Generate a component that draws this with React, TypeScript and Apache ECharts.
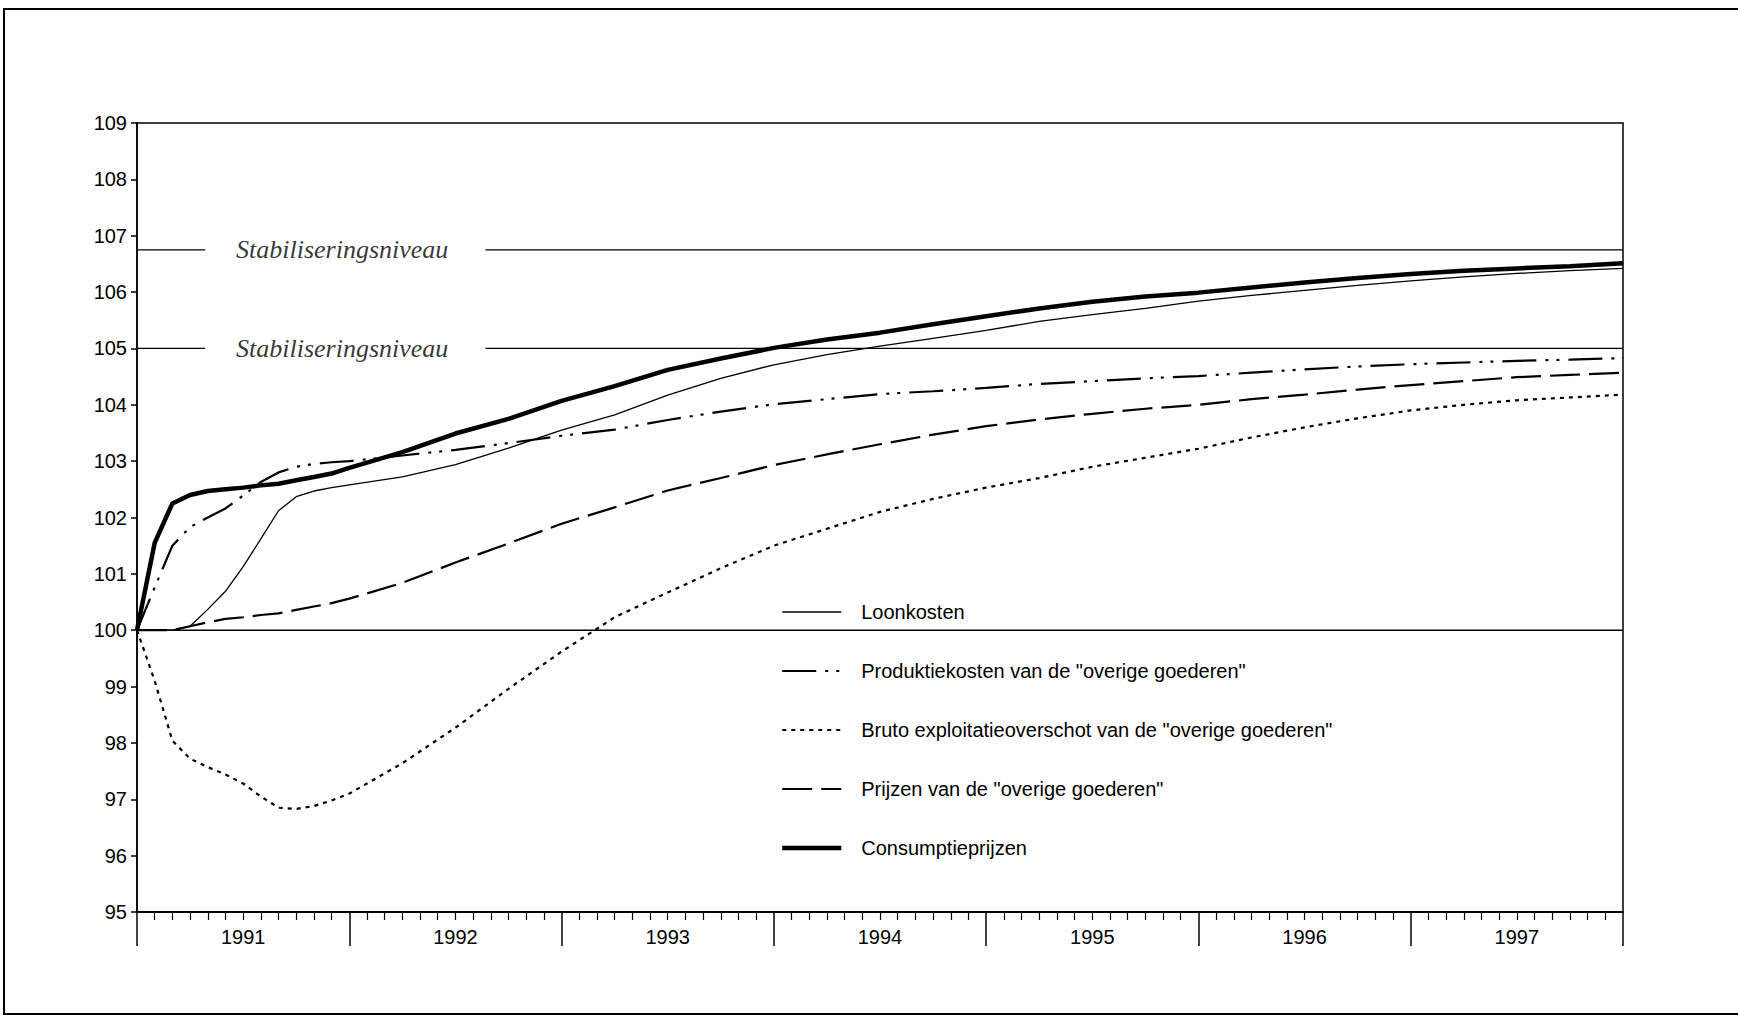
import React, { useEffect, useRef } from "react";
import * as echarts from "echarts";

// x positions in months since the start of 1991
const MONTHS = [0, 1, 2, 3, 4, 5, 6, 7, 8, 9, 10, 11, 12, 15, 18, 21, 24, 27, 30, 33, 36, 39, 42, 45, 48, 51, 54, 57, 60, 63, 66, 69, 72, 75, 78, 81, 84];
const YEARS = ["1991", "1992", "1993", "1994", "1995", "1996", "1997"];

const LOONKOSTEN = [100, 100, 100, 100.07, 100.37, 100.69, 101.13, 101.62, 102.12, 102.37, 102.47, 102.53, 102.58, 102.72, 102.94, 103.23, 103.55, 103.82, 104.17, 104.47, 104.71, 104.89, 105.04, 105.18, 105.32, 105.48, 105.6, 105.71, 105.84, 105.94, 106.03, 106.12, 106.2, 106.27, 106.33, 106.38, 106.42];
const PRODUKTIEKOSTEN = [100, 100.76, 101.5, 101.83, 102.0, 102.16, 102.39, 102.63, 102.8, 102.9, 102.95, 102.98, 103.0, 103.1, 103.2, 103.32, 103.45, 103.56, 103.73, 103.88, 104.01, 104.1, 104.19, 104.24, 104.3, 104.37, 104.42, 104.47, 104.51, 104.57, 104.63, 104.68, 104.72, 104.75, 104.78, 104.8, 104.83];
const BRUTO = [100, 99.1, 98.04, 97.72, 97.57, 97.44, 97.28, 97.05, 96.85, 96.83, 96.88, 96.98, 97.1, 97.64, 98.27, 98.96, 99.62, 100.23, 100.67, 101.1, 101.5, 101.8, 102.1, 102.33, 102.53, 102.7, 102.9, 103.06, 103.22, 103.42, 103.6, 103.76, 103.9, 104.0, 104.08, 104.13, 104.18];
const PRIJZEN = [100, 100, 100, 100.07, 100.14, 100.2, 100.23, 100.27, 100.3, 100.36, 100.42, 100.48, 100.56, 100.84, 101.2, 101.54, 101.89, 102.18, 102.48, 102.7, 102.93, 103.12, 103.3, 103.47, 103.62, 103.74, 103.84, 103.93, 104.0, 104.1, 104.18, 104.27, 104.35, 104.42, 104.49, 104.53, 104.57];
const CONSUMPTIE = [100, 101.55, 102.25, 102.4, 102.47, 102.5, 102.53, 102.57, 102.6, 102.66, 102.72, 102.78, 102.88, 103.16, 103.49, 103.75, 104.07, 104.33, 104.62, 104.82, 105.01, 105.16, 105.28, 105.43, 105.57, 105.71, 105.83, 105.92, 105.99, 106.08, 106.17, 106.25, 106.32, 106.38, 106.42, 106.46, 106.51];

const BASE_LEVEL = 100;
const STAB_LEVELS = [106.75, 105.0];
const STAB_LABEL = "Stabiliseringsniveau";

const NAMES = [
  "Loonkosten",
  'Produktiekosten van de "overige goederen"',
  'Bruto exploitatieoverschot van de "overige goederen"',
  'Prijzen van de "overige goederen"',
  "Consumptieprijzen",
];

// layout (months) of the gap left for the level label
const X_MIN = 0;
const X_MAX = 84;
const GAP_START = 3.85;
const GAP_END = 19.7;
const LABEL_AT = 11.6;

const pairs = (vals: number[]) => MONTHS.map((m, i) => [m, vals[i]]);

export default function App() {
  const ref = useRef<HTMLDivElement>(null);
  useEffect(() => {
    if (!ref.current) return;
    const chart = echarts.init(ref.current, undefined, { renderer: "svg" });
    const black = "#000";
    const clear = "rgba(0,0,0,0)";
    const styles: { width: number; type: any }[] = [
      { width: 1.3, type: "solid" },
      { width: 2.2, type: [34, 9, 3, 8, 3, 9] },
      { width: 2.2, type: [4, 5] },
      { width: 2.2, type: [30, 9] },
      { width: 4.5, type: "solid" },
    ];
    const lineSeries = (i: number, vals: number[], z: number) => ({
      name: NAMES[i],
      type: "line",
      data: pairs(vals),
      symbol: "none",
      showSymbol: false,
      silent: true,
      z,
      lineStyle: { color: black, width: styles[i].width, type: styles[i].type, cap: "butt" },
      itemStyle: { color: black },
    });
    const helper = (data: any[], width: number) => ({
      type: "line",
      data,
      symbol: "none",
      silent: true,
      z: 1,
      lineStyle: { color: black, width, type: "solid" },
    });
    const stabSeries: any[] = [];
    STAB_LEVELS.forEach((lv) => {
      stabSeries.push(helper([[X_MIN, lv], [GAP_START, lv]], 1.3));
      stabSeries.push(helper([[GAP_END, lv], [X_MAX, lv]], 1.3));
    });
    chart.setOption({
      animation: false,
      backgroundColor: "#fff",
      textStyle: { fontFamily: "Liberation Sans, Arial, sans-serif" },
      graphic: [
        {
          type: "rect",
          shape: { x: 4, y: 9, width: 1800, height: 1005 },
          style: { fill: "none", stroke: black, lineWidth: 2 },
          silent: true,
        },
      ],
      grid: {
        left: 137,
        right: 115,
        top: 123,
        bottom: 109,
        show: true,
        borderColor: black,
        borderWidth: 1.5,
      },
      legend: {
        orient: "vertical",
        left: 775,
        top: 597,
        itemWidth: 59,
        itemHeight: 20,
        itemGap: 39,
        selectedMode: false,
        itemStyle: { color: clear, borderColor: clear, borderWidth: 0, opacity: 0 },
        data: NAMES.map((n, i) => ({
          name: n,
          itemStyle: { color: clear, borderColor: clear, borderWidth: 0, opacity: 0 },
          lineStyle: { color: black, width: styles[i].width, type: styles[i].type, opacity: 1 },
        })),
        textStyle: {
          fontSize: 20,
          color: black,
          fontFamily: "Liberation Sans, Arial, sans-serif",
          padding: [0, 0, 0, 15],
        },
      },
      xAxis: [
        {
          type: "value",
          min: X_MIN,
          max: X_MAX,
          interval: 12,
          axisLine: { show: true, onZero: false, lineStyle: { color: black, width: 2 } },
          axisTick: { show: true, length: 34, lineStyle: { color: black, width: 1.5 } },
          minorTick: { show: true, splitNumber: 12, length: 8, lineStyle: { color: black, width: 1.2 } },
          axisLabel: { show: false },
          splitLine: { show: false },
          minorSplitLine: { show: false },
        },
        {
          type: "category",
          data: YEARS,
          position: "bottom",
          boundaryGap: true,
          axisLine: { show: false },
          axisTick: { show: false },
          axisLabel: { color: black, fontSize: 20, margin: 15, fontFamily: "Liberation Sans, Arial, sans-serif" },
          splitLine: { show: false },
        },
      ],
      yAxis: {
        type: "value",
        min: 95,
        max: 109,
        interval: 1,
        axisLine: { show: true, lineStyle: { color: black, width: 1.5 } },
        axisTick: { show: true, length: 6, lineStyle: { color: black, width: 1.5 } },
        axisLabel: { color: black, fontSize: 20, margin: 10, fontFamily: "Liberation Sans, Arial, sans-serif" },
        splitLine: { show: false },
      },
      series: [
        helper([[X_MIN, BASE_LEVEL], [X_MAX, BASE_LEVEL]], 1.6),
        ...stabSeries,
        {
          type: "scatter",
          data: STAB_LEVELS.map((lv) => [LABEL_AT, lv]),
          symbolSize: 0,
          silent: true,
          label: {
            show: true,
            position: "inside",
            formatter: STAB_LABEL,
            color: black,
            fontSize: 26,
            fontStyle: "italic",
            fontFamily: "Liberation Serif, Times New Roman, serif",
          },
        },
        lineSeries(0, LOONKOSTEN, 3),
        lineSeries(1, PRODUKTIEKOSTEN, 3),
        lineSeries(2, BRUTO, 3),
        lineSeries(3, PRIJZEN, 3),
        lineSeries(4, CONSUMPTIE, 4),
      ],
    });
    return () => chart.dispose();
  }, []);
  return (
    <div
      ref={ref}
      style={{ position: "absolute", left: 0, top: 0, width: 1738, height: 1021, background: "#fff" }}
    />
  );
}
